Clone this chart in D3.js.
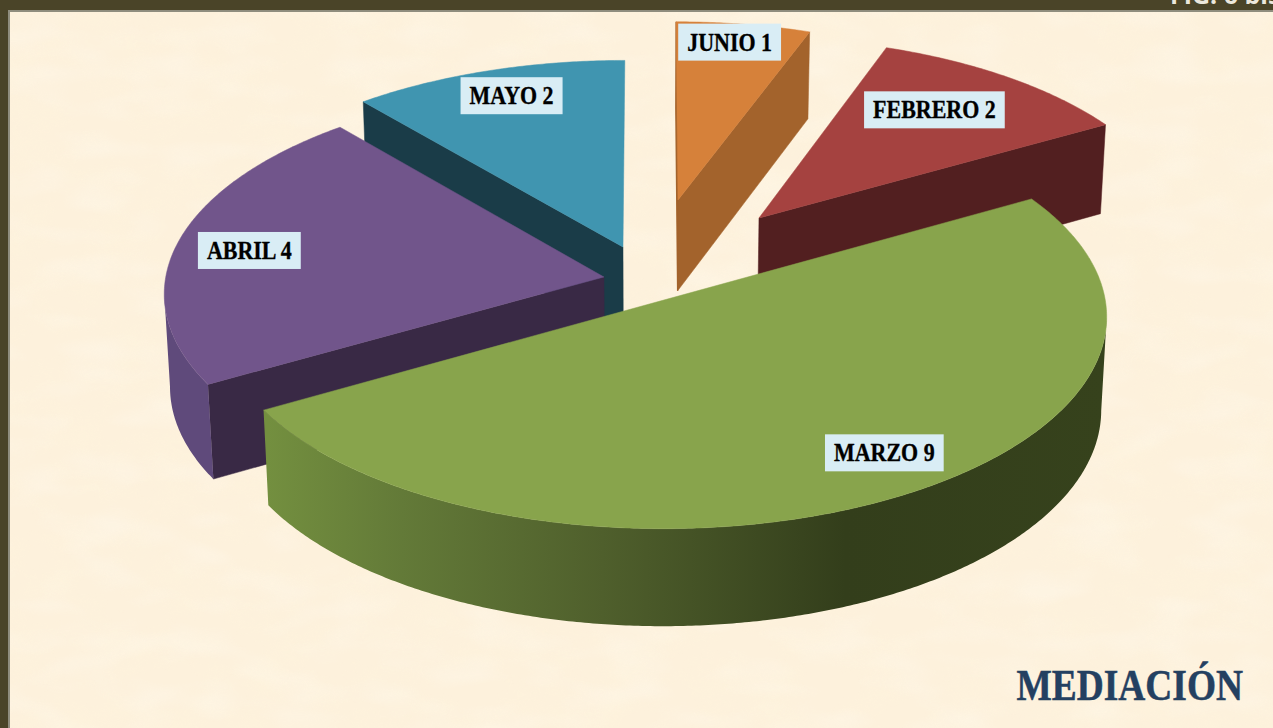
<!DOCTYPE html>
<html><head><meta charset="utf-8">
<script src="https://cdn.jsdelivr.net/npm/d3@7"></script>
<style>html,body{margin:0;padding:0;background:#fdf1dc;overflow:hidden}svg{display:block}</style>
</head><body><svg id="c" width="1273" height="728"></svg>
<script>
const categories = ["JUNIO","FEBRERO","MARZO","ABRIL","MAYO"];
const values = [1,2,9,4,2];
const topColors = ["#d6813a","#a54240","#88a44c","#71558b","#4095b0"];
const wallColors = ["#a3632c","#521f20","#333e1b","#392945","#1a3c48"];
const rimColors = ["#a3632c","#521f20","url(#rimMarzo)","#5f4a7b","#1a3c48"];
const explodeX = [0.065,0.2516,0.027,-0.104,-0.0617];
const explodeZ = [0.479,0.3885,-0.012,0.0998,0.245];
const sliceRadius = [0.967,0.967,0.993,0.99,0.98];
const labelRadius = [0.86,0.71,0.827,0.82,0.83];
const labelTurn = [-1.2,-2.5,-4.7,-1,0.8];
const paintOrder = [4,0,1,3,2];
const title = "MEDIACIÓN";
const corner = "FIG. 6 bis";

const W=1273,H=728;
const svg=d3.select("#c");
const defs=svg.append("defs");
const f=defs.append("filter").attr("id","mottle").attr("x",0).attr("y",0).attr("width","100%").attr("height","100%");
f.append("feTurbulence").attr("type","fractalNoise").attr("baseFrequency","0.02 0.03").attr("numOctaves",3).attr("seed",7);
f.append("feColorMatrix").attr("type","matrix").attr("values","0 0 0 0 0.99  0 0 0 0 0.9  0 0 0 0 0.72  2.2 0 0 0 -0.9");
const f2=defs.append("filter").attr("id","mottle2").attr("x",0).attr("y",0).attr("width","100%").attr("height","100%");
f2.append("feTurbulence").attr("type","fractalNoise").attr("baseFrequency","0.015 0.035").attr("numOctaves",2).attr("seed",23);
f2.append("feColorMatrix").attr("type","matrix").attr("values","0 0 0 0 1  0 0 0 0 0.98  0 0 0 0 0.92  2.4 0 0 0 -1.05");
const g=defs.append("linearGradient").attr("id","rimMarzo").attr("gradientUnits","userSpaceOnUse").attr("x1",268).attr("x2",1105).attr("y1",0).attr("y2",0);
[[0,"#738f3f"],[0.16,"#637a38"],[0.4,"#4f5f2c"],[0.69,"#333e1b"],[1,"#36421c"]].forEach(s=>g.append("stop").attr("offset",s[0]).attr("stop-color",s[1]));

svg.append("rect").attr("width",W).attr("height",H).attr("fill","#fdf1dc");
svg.append("rect").attr("width",W).attr("height",H).attr("filter","url(#mottle)").attr("opacity",0.45);
svg.append("rect").attr("width",W).attr("height",H).attr("filter","url(#mottle2)").attr("opacity",0.25);

// projection of the pie plane with slight perspective
const cx=650,cy=298,A=446,B=212,D=94,P=0.076,Q=0.012;
function project(X,Z,h){const w=1+P*Z+Q*h;return [cx+A*X/w, cy+(-B*Z+D*h)/w];}
const line=d3.line();
const deg=Math.PI/180;
const arcs=d3.pie().sort(null).value(d=>d).startAngle(0).endAngle(2*Math.PI)(values);
const rim=(i,a,h)=>project(explodeX[i]+sliceRadius[i]*Math.sin(a),explodeZ[i]+sliceRadius[i]*Math.cos(a),h);
const apex=(i,h)=>project(explodeX[i],explodeZ[i],h);
const sample=(a0,a1)=>{const n=Math.max(2,Math.ceil(Math.abs(a1-a0)/(0.5*deg)));return d3.range(n+1).map(k=>a0+(a1-a0)*k/n);};
const chart=svg.append("g");
paintOrder.forEach(i=>{
  const s=arcs[i],sl=chart.append("g").attr("class","slice");
  const a0=s.startAngle,a1=s.endAngle;
  // front-facing straight walls
  [[a0,Math.sin(a0)<1e-6],[a1,Math.sin(a1)>1e-6]].forEach(([a,vis])=>{
    if(!vis)return;
    sl.append("path").attr("fill",wallColors[i]).attr("stroke",wallColors[i]).attr("stroke-width",Math.abs(Math.sin(a))<1e-6?1.4:0.5)
      .attr("d",line([apex(i,0),rim(i,a,0),rim(i,a,1),apex(i,1)])+"Z");
  });
  // outer curved wall, bounded by the side silhouettes
  const as0=sample(a0,a1).filter(a=>Math.cos(a)<0.35);
  if(as0.length>1){
    const xr=d3.greatest(as0,a=>rim(i,a,0)[0]),xl=d3.least(as0,a=>rim(i,a,0)[0]);
    const isRight=a=>Math.sin(a)>0;
    const r0=isRight(xr)&&a0<Math.PI/2+0.6?xr:as0[0];
    const r1=!isRight(xl)&&a1>1.5*Math.PI-0.6?xl:as0[as0.length-1];
    const as=sample(Math.max(r0,a0),Math.min(r1,a1));
    sl.append("path").attr("fill",rimColors[i])
      .attr("d",line(as.map(a=>rim(i,a,0)).concat(as.slice().reverse().map(a=>rim(i,a,1))))+"Z");
  }
  // top face
  sl.append("path").attr("fill",topColors[i]).attr("stroke",topColors[i]).attr("stroke-width",0.5)
    .attr("d",line([apex(i,0)].concat(sample(a0,a1).map(a=>rim(i,a,0))))+"Z");
});
// labels
const squeeze=0.845;
const labels=svg.append("g").attr("font-family","'Liberation Serif',serif").attr("font-weight","bold").attr("font-size",26).attr("fill","#000").attr("stroke","#000").attr("stroke-width",0.35);
arcs.forEach((s,i)=>{
  const a=(s.startAngle+s.endAngle)/2+labelTurn[i]*deg;
  const [x,y]=project(explodeX[i]+labelRadius[i]*Math.sin(a),explodeZ[i]+labelRadius[i]*Math.cos(a),0);
  const lg=labels.append("g");
  const t=lg.append("text").attr("x",x).attr("y",y+8.5).attr("text-anchor","middle").text(categories[i]+" "+values[i]);
  const tw=t.node().getComputedTextLength()*squeeze;
  t.attr("textLength",tw).attr("lengthAdjust","spacingAndGlyphs");
  const w=tw+18;
  lg.insert("rect","text").attr("x",x-w/2).attr("y",y-18.5).attr("width",w).attr("height",37).attr("fill","#d9edf5").attr("stroke","none");
});
svg.append("text").attr("transform","translate(1243,700) scale(0.85,1)").attr("text-anchor","end").attr("font-family","'Liberation Serif',serif").attr("font-weight","bold").attr("font-size",44).attr("fill","#244061").attr("stroke","#244061").attr("stroke-width",0.5).text(title);
// frame
svg.append("rect").attr("x",0).attr("y",0).attr("width",W).attr("height",10).attr("fill","#4a4428");
svg.append("rect").attr("x",0).attr("y",0).attr("width",8).attr("height",H).attr("fill","#4a4428");
svg.append("rect").attr("x",8).attr("y",10).attr("width",W-8).attr("height",2).attr("fill","#8f8d7e");
svg.append("rect").attr("x",8).attr("y",10).attr("width",2).attr("height",H-10).attr("fill","#8f8d7e");
svg.append("text").attr("x",1170).attr("y",4).attr("font-family","'Open Sans',sans-serif").attr("font-weight","bold").attr("font-size",25).attr("fill","#ece8dc").text(corner);
</script></body></html>
